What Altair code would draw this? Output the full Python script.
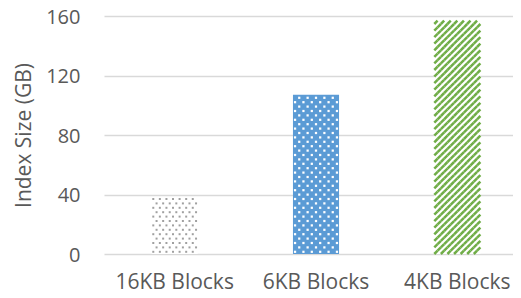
import altair as alt
import pandas as pd

categories = ["16KB Blocks", "6KB Blocks", "4KB Blocks"]
values = [38, 107, 157]
y_ticks = [0, 40, 80, 120, 160]

PLOT_H = 238
Y_MAX = 160
PX_PER_UNIT = PLOT_H / Y_MAX

df = pd.DataFrame({"cat": categories, "val": values})


def pattern_grid(cat, val, ncols, row_px):
    dy = row_px / PX_PER_UNIT
    nrows = int(round(val / dy))
    recs = []
    for r in range(nrows):
        for c in range(ncols):
            if (c + r) % 2 == 0:
                recs.append({"cat": cat, "c": c, "y": (r + 0.5) * dy})
    return pd.DataFrame(recs)


dots1 = pattern_grid(categories[0], values[0] - 1, 14, 4.4)
dots2 = pattern_grid(categories[1], values[1] - 1, 11, 4.4)
cell = 46 / 14
stripes = pattern_grid(categories[2], values[2], 14, cell)

grey = "#595959"
FONT = "Open Sans"

xscale = alt.Scale(domain=categories, paddingInner=0.674, paddingOuter=0.337, range=[0, 424])

bars = alt.Chart(df).mark_bar().encode(
    x=alt.X("cat:N", sort=categories, scale=xscale,
            axis=alt.Axis(title=None, domain=False, ticks=False, labelPadding=17,
                          labelFontSize=21, labelColor=grey, labelFont=FONT, labelAngle=0)),
    y=alt.Y("val:Q", scale=alt.Scale(domain=[0, Y_MAX]),
            axis=alt.Axis(title="Index Size (GB)", values=y_ticks, domain=False, ticks=False,
                          labelPadding=24, labelFontSize=20, labelOffset=1, labelColor=grey,
                          labelFont=FONT,
                          titleFontSize=21, titleColor=grey, titleFont=FONT,
                          titleFontWeight="normal", titlePadding=11,
                          gridColor="#d9d9d9", gridWidth=1.5)),
    color=alt.Color("cat:N", scale=alt.Scale(domain=categories,
                                             range=["#ffffff", "#5b9bd5", "#ffffff"]),
                    legend=None),
)

l1 = alt.Chart(dots1).mark_square(size=4, color="#a0a0a0", opacity=1).encode(
    x=alt.X("cat:N", sort=categories),
    xOffset=alt.XOffset("c:O", scale=alt.Scale(domain=list(range(14)))),
    y="y:Q",
)
l2 = alt.Chart(dots2).mark_square(size=5, color="#ffffff", opacity=1).encode(
    x=alt.X("cat:N", sort=categories),
    xOffset=alt.XOffset("c:O", scale=alt.Scale(domain=list(range(11)))),
    y="y:Q",
)
l3 = alt.Chart(stripes).mark_point(shape="M -1 1 L 1 -1", size=cell * cell, filled=False,
                                   strokeWidth=2.5, color="#70ad47", opacity=1,
                                   strokeCap="butt").encode(
    x=alt.X("cat:N", sort=categories),
    xOffset=alt.XOffset("c:O", scale=alt.Scale(domain=list(range(14)))),
    y="y:Q",
)

chart = alt.layer(bars, l1, l2, l3).resolve_scale(xOffset="independent").properties(
    width=409, height=PLOT_H,
    autosize=alt.AutoSizeParams(type="none"),
    padding={"left": 96, "top": 8, "right": 0, "bottom": 42},
).configure_view(stroke=None)

chart.save("out.html", embed_options={"renderer": "svg", "actions": False})
